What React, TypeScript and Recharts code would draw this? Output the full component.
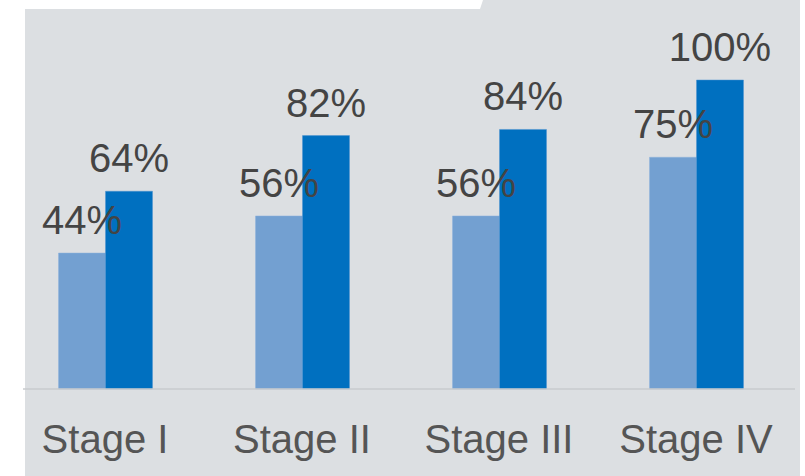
import React from 'react';
import { BarChart, Bar, XAxis, YAxis, LabelList } from 'recharts';

const stages = ['Stage I', 'Stage II', 'Stage III', 'Stage IV'];
const lightValues = [44, 56, 56, 75];
const darkValues = [64, 82, 84, 100];

const data = stages.map((stage, i) => ({
  stage,
  light: lightValues[i],
  dark: darkValues[i],
}));

const FONT = '"Liberation Sans", Arial, sans-serif';

const App: React.FC = () => {
  return (
    <div style={{ position: 'fixed', left: 0, top: 0, width: 805, height: 476, background: '#fff' }}>
      {/* panel background with the little tab at the top */}
      <svg width={805} height={476} style={{ position: 'absolute', left: 0, top: 0 }}>
        <polygon points="25,9 480,9 483,0 800,0 800,476 25,476" fill="#dcdfe2" />
      </svg>
      <div style={{ position: 'absolute', left: 0, top: 0 }}>
        <BarChart
          width={805}
          height={476}
          data={data}
          margin={{ top: 80, right: 10, bottom: 0, left: 23 }}
          barCategoryGap={52}
          barGap={0}
        >
          <XAxis
            dataKey="stage"
            height={87}
            padding={{ left: -16.5, right: 0.5 }}
            axisLine={{ stroke: '#c9cbce', strokeWidth: 1.5 }}
            tickLine={false}
            tickSize={0}
            tickMargin={36}
            tick={{ fill: '#555555', fontSize: 40, fontFamily: FONT }}
            interval={0}
          />
          <YAxis hide domain={[0, 100]} />
          <Bar dataKey="light" fill="#73a0d1" stroke="#8fb3dc" strokeWidth={0.5} isAnimationActive={false}>
            <LabelList
              dataKey="light"
              position="top"
              offset={19}
              formatter={(v: any) => `${v}%`}
              style={{ fill: '#444444', fontSize: 40, fontFamily: FONT }}
            />
          </Bar>
          <Bar dataKey="dark" fill="#0070c0" stroke="#4f93d0" strokeWidth={0.5} isAnimationActive={false}>
            <LabelList
              dataKey="dark"
              position="top"
              offset={19}
              formatter={(v: any) => `${v}%`}
              style={{ fill: '#444444', fontSize: 40, fontFamily: FONT }}
            />
          </Bar>
        </BarChart>
      </div>
    </div>
  );
};

export default App;
